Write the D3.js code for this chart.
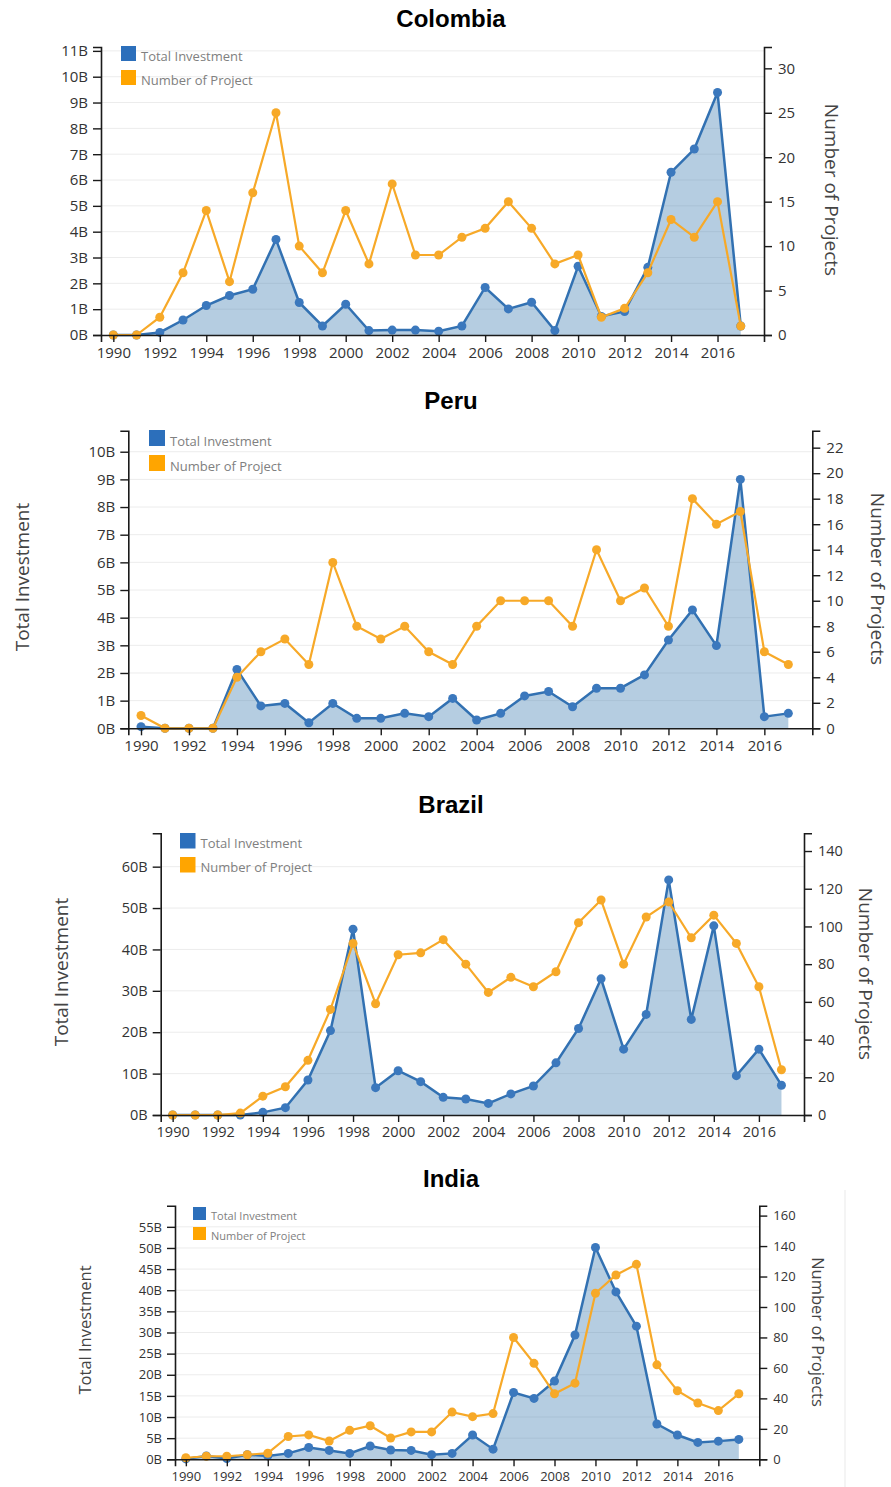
<!DOCTYPE html>
<html><head><meta charset="utf-8">
<script src="https://cdn.jsdelivr.net/npm/d3@7"></script>
<style>
body{margin:0;background:#fff;}
svg{display:block;}
</style></head><body>
<svg id="chart" width="891" height="1487"></svg>
<script>
// ---------- DATA ----------
const years = [1990,1991,1992,1993,1994,1995,1996,1997,1998,1999,2000,2001,2002,2003,2004,2005,2006,2007,2008,2009,2010,2011,2012,2013,2014,2015,2016,2017];
const xTickYears = [1990,1992,1994,1996,1998,2000,2002,2004,2006,2008,2010,2012,2014,2016];
const legendLabels = ["Total Investment", "Number of Project"];
const countries = ["Colombia", "Peru", "Brazil", "India"];

// Total investment in billions
const colombiaInvestment = [0,0,0.1,0.58,1.14,1.53,1.77,3.7,1.26,0.35,1.19,0.17,0.19,0.19,0.15,0.35,1.84,1.01,1.27,0.17,2.66,0.72,0.91,2.62,6.3,7.2,9.39,0.35];
const colombiaProjects   = [0,0,2,7,14,6,16,25,10,7,14,8,17,9,9,11,12,15,12,8,9,2,3,7,13,11,15,1];
const colombiaInvTicks   = [0,1,2,3,4,5,6,7,8,9,10,11];
const colombiaProjTicks  = [0,5,10,15,20,25,30];

const peruInvestment = [0.06,0,0,0,2.13,0.81,0.9,0.2,0.9,0.36,0.36,0.54,0.42,1.08,0.3,0.54,1.17,1.33,0.78,1.45,1.45,1.93,3.19,4.28,2.99,9.0,0.42,0.54];
const peruProjects   = [1,0,0,0,4,6,7,5,13,8,7,8,6,5,8,10,10,10,8,14,10,11,8,18,16,17,6,5];
const peruInvTicks   = [0,1,2,3,4,5,6,7,8,9,10];
const peruProjTicks  = [0,2,4,6,8,10,12,14,16,18,20,22];

const brazilInvestment = [0,0,0,0,0.64,1.77,8.45,20.4,44.9,6.6,10.7,8.05,4.27,3.86,2.8,5.1,7.0,12.6,20.9,32.9,15.9,24.3,56.8,23.1,45.7,9.5,15.9,7.2];
const brazilProjects   = [0,0,0,1,10,15,29,56,91,59,85,86,93,80,65,73,68,76,102,114,80,105,113,94,106,91,68,24];
const brazilInvTicks   = [0,10,20,30,40,50,60];
const brazilProjTicks  = [0,20,40,60,80,100,120,140];

const indiaInvestment = [0.1,0.8,0.2,1.1,0.8,1.4,2.8,2.1,1.4,3.15,2.2,2.1,1.1,1.4,5.75,2.4,15.8,14.4,18.5,29.4,50.1,39.6,31.5,8.35,5.75,4.0,4.3,4.7];
const indiaProjects   = [1,2,2,3,4,15,16,12,19,22,14,18,18,31,28,30,80,63,43,50,109,121,128,62,45,37,32,43];
const indiaInvTicks   = [0,5,10,15,20,25,30,35,40,45,50,55];
const indiaProjTicks  = [0,20,40,60,80,100,120,140,160];

// ---------- LAYOUT ----------
const layouts = [
  {title:countries[0], inv:colombiaInvestment, proj:colombiaProjects, invTicks:colombiaInvTicks, projTicks:colombiaProjTicks,
   left:101, right:764, top:47, bottom:335, lMax:11.15, rMax:32.4, titleY:27,
   legX:121, legY:46, legSize:15, legGap:24, legFont:13,
   tickFont:15, axisFont:19, leftLabel:null, rightLabel:[832,190]},
  {title:countries[1], inv:peruInvestment, proj:peruProjects, invTicks:peruInvTicks, projTicks:peruProjTicks,
   left:128.3, right:812.3, top:430.7, bottom:728.3, lMax:10.76, rMax:23.33, titleY:409,
   legX:149, legY:430, legSize:16, legGap:25, legFont:13,
   tickFont:15, axisFont:19, leftLabel:[22,577], rightLabel:[878,579]},
  {title:countries[2], inv:brazilInvestment, proj:brazilProjects, invTicks:brazilInvTicks, projTicks:brazilProjTicks,
   left:160.7, right:804, top:833.3, bottom:1115, lMax:68.06, rMax:149.4, titleY:813,
   legX:180, legY:833, legSize:15.5, legGap:24, legFont:13,
   tickFont:14.5, axisFont:19, leftLabel:[61,972], rightLabel:[866,974]},
  {title:countries[3], inv:indiaInvestment, proj:indiaProjects, invTicks:indiaInvTicks, projTicks:indiaProjTicks,
   left:175, right:759.3, top:1205.7, bottom:1459.3, lMax:60, rMax:166.5, titleY:1187,
   legX:193, legY:1207, legSize:13, legGap:20, legFont:11,
   tickFont:13, axisFont:16.5, leftLabel:[84,1330], rightLabel:[818,1332]}
];

const BLUE_LINE = "#3271b2", BLUE_DOT = "#3b78bd", BLUE_AREA = "rgba(70,130,180,0.4)", BLUE_LEG = "#2c6fbb";
const ORANGE = "#f7a928", ORANGE_LEG = "#ffa500";
const FONT = "'Open Sans', sans-serif";

const svg = d3.select("#chart");

// faint screenshot frame on the India chart
svg.append("line").attr("x1",845).attr("x2",845).attr("y1",1190).attr("y2",1487)
  .attr("stroke","#f0f0f0").attr("stroke-width",1.5);

function drawChart(c){
  const g = svg.append("g");
  const x = d3.scaleLinear().domain([1989.47, 2018]).range([c.left, c.right]);
  const yL = d3.scaleLinear().domain([0, c.lMax]).range([c.bottom, c.top]);
  const yR = d3.scaleLinear().domain([0, c.rMax]).range([c.bottom, c.top]);
  const pts = years.map((yr,i)=>({yr, inv:c.inv[i], proj:c.proj[i]}));

  // gridlines
  g.append("g").selectAll("line").data(c.invTicks.filter(t=>t>0)).join("line")
    .attr("x1",c.left).attr("x2",c.right)
    .attr("y1",d=>yL(d)).attr("y2",d=>yL(d))
    .attr("stroke","#ececec").attr("stroke-width",1);

  // area + blue line
  g.append("path").datum(pts)
    .attr("d", d3.area().x(d=>x(d.yr)).y0(c.bottom).y1(d=>yL(d.inv)))
    .attr("fill", BLUE_AREA);
  g.append("path").datum(pts)
    .attr("d", d3.line().x(d=>x(d.yr)).y(d=>yL(d.inv)))
    .attr("fill","none").attr("stroke",BLUE_LINE).attr("stroke-width",2.5);
  g.append("g").selectAll("circle").data(pts).join("circle")
    .attr("cx",d=>x(d.yr)).attr("cy",d=>yL(d.inv)).attr("r",4.5).attr("fill",BLUE_DOT);

  // orange line
  g.append("path").datum(pts)
    .attr("d", d3.line().x(d=>x(d.yr)).y(d=>yR(d.proj)))
    .attr("fill","none").attr("stroke",ORANGE).attr("stroke-width",2.2);
  g.append("g").selectAll("circle").data(pts).join("circle")
    .attr("cx",d=>x(d.yr)).attr("cy",d=>yR(d.proj)).attr("r",4.5).attr("fill",ORANGE);

  // axes
  const styleAxis = sel => {
    sel.selectAll("path.domain").attr("stroke","#1a1a1a").attr("stroke-width",1.6);
    sel.selectAll(".tick line").attr("stroke","#1a1a1a").attr("stroke-width",1.4);
    sel.selectAll(".tick text").attr("font-family",FONT).attr("font-size",c.tickFont).attr("fill","#333");
  };
  g.append("g").attr("transform",`translate(0,${c.bottom})`)
    .call(d3.axisBottom(x).tickValues(xTickYears).tickFormat(d3.format("d")).tickSize(7).tickPadding(5))
    .call(styleAxis);
  g.append("g").attr("transform",`translate(${c.left},0)`)
    .call(d3.axisLeft(yL).tickValues(c.invTicks).tickFormat(d=>d+"B").tickSize(8).tickPadding(5))
    .call(styleAxis);
  g.append("g").attr("transform",`translate(${c.right},0)`)
    .call(d3.axisRight(yR).tickValues(c.projTicks).tickSize(8).tickPadding(6))
    .call(styleAxis);

  // title
  g.append("text").attr("x",451).attr("y",c.titleY).attr("text-anchor","middle")
    .attr("font-family","'Liberation Sans', Arial, sans-serif").attr("font-weight","bold")
    .attr("font-size",24).attr("fill","#000").text(c.title);

  // legend
  const legColors = [BLUE_LEG, ORANGE_LEG];
  legendLabels.forEach((lab,i)=>{
    const yy = c.legY + i*c.legGap;
    g.append("rect").attr("x",c.legX).attr("y",yy).attr("width",c.legSize).attr("height",c.legSize).attr("fill",legColors[i]);
    g.append("text").attr("x",c.legX+c.legSize+5).attr("y",yy+c.legSize*0.98)
      .attr("font-family",FONT).attr("font-size",c.legFont).attr("fill","#808080").text(lab);
  });

  // axis titles
  if(c.leftLabel){
    g.append("text").attr("transform",`translate(${c.leftLabel[0]},${c.leftLabel[1]}) rotate(-90)`)
      .attr("text-anchor","middle").attr("dominant-baseline","central")
      .attr("font-family",FONT).attr("font-size",c.axisFont).attr("fill","#444").text("Total Investment");
  }
  g.append("text").attr("transform",`translate(${c.rightLabel[0]},${c.rightLabel[1]}) rotate(90)`)
    .attr("text-anchor","middle").attr("dominant-baseline","central")
    .attr("font-family",FONT).attr("font-size",c.axisFont).attr("fill","#444").text("Number of Projects");
}

layouts.forEach(drawChart);
</script>
</body></html>
